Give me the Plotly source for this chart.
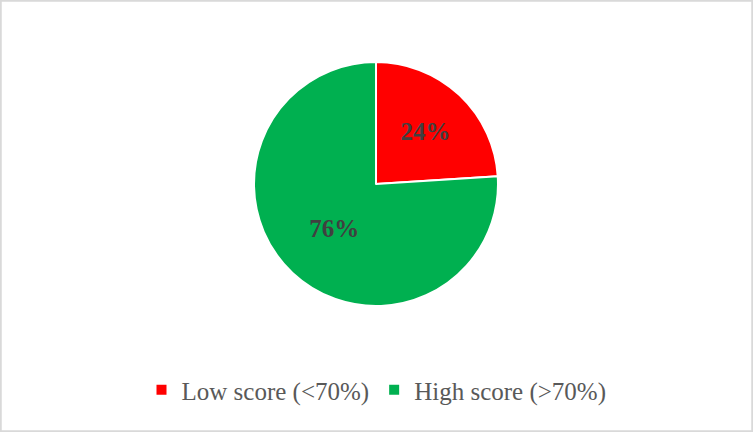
import plotly.graph_objects as go

labels = ["Low score (<70%)", "High score (>70%)"]
values = [24, 76]
colors = ["#FF0000", "#00B050"]

W, H = 753, 432
cx, cy, r = 376, 184, 122

fig = go.Figure(go.Pie(
    labels=labels,
    values=values,
    sort=False,
    direction="clockwise",
    rotation=0,
    marker=dict(colors=colors, line=dict(color="white", width=2)),
    textinfo="percent",
    texttemplate="<b>%{percent:.0%}</b>",
    textposition="inside",
    insidetextorientation="horizontal",
    textfont=dict(family="Liberation Serif", size=25, color="#404040"),
    domain=dict(x=[(cx - r) / W, (cx + r) / W], y=[(H - cy - r) / H, (H - cy + r) / H]),
    hoverinfo="label+percent",
))

fig.update_layout(
    width=W, height=H,
    margin=dict(l=0, r=0, t=0, b=0),
    paper_bgcolor="white",
    plot_bgcolor="white",
    showlegend=True,
    legend=dict(
        orientation="h",
        x=0.5, xanchor="center",
        y=(H - 390) / H, yanchor="middle",
        font=dict(family="Liberation Serif", size=25, color="#595959"),
        traceorder="normal",
        itemwidth=30,
    ),
    shapes=[dict(type="rect", xref="paper", yref="paper", x0=0.001, x1=0.999, y0=0.002, y1=0.998,
                 line=dict(color="#d9d9d9", width=2), fillcolor="rgba(0,0,0,0)", layer="below")],
)

fig.write_html("out.html", config={"displayModeBar": False},
               post_script="document.body.style.margin='0';")
